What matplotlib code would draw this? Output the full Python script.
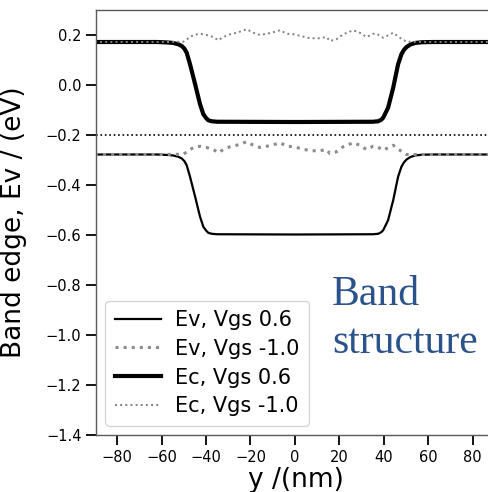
import matplotlib.pyplot as plt
import numpy as np

# y positions (nm) for the Vgs 0.6 step curves
y_step = [-90, -62, -57, -54.7, -52.5, -50.9, -49.7, -48.7, -47.2, -44.9, -42.7, -41.2, -40.0, -39.0, -37.5, -35, 0,
          35, 37.5, 38.8, 39.7, 41.9, 44.2, 46.4, 47.9, 49.0, 50.2, 52, 54, 57, 62, 90]
ec_06 = [0.172, 0.172, 0.170, 0.168, 0.163, 0.156, 0.145, 0.129, 0.083, 0.003, -0.077, -0.117, -0.132, -0.141, -0.145, -0.147, -0.148,
         -0.147, -0.145, -0.139, -0.131, -0.091, -0.011, 0.083, 0.123, 0.140, 0.152, 0.162, 0.168, 0.171, 0.172, 0.172]
ev_06 = [-0.278, -0.278, -0.280, -0.282, -0.287, -0.294, -0.305, -0.321, -0.367, -0.447, -0.527, -0.567, -0.582, -0.591, -0.595, -0.597, -0.598,
         -0.597, -0.595, -0.589, -0.581, -0.541, -0.461, -0.367, -0.327, -0.310, -0.298, -0.288, -0.282, -0.279, -0.278, -0.278]

# y positions (nm) for the Vgs -1.0 curves
y_m10 = [-90, -60, -50.2, -45.7, -42.7, -39.7, -36.7, -34.5, -32.2, -29.2, -26.2, -21.7, -18.7,
         -15.7, -12.7, -10.5, -6.7, -3.7, -0.7, 2.2, 6.7, 11.2, 14.2, 15.7, 18.7, 21.7, 26.2,
         29.2, 32.2, 35.2, 36.7, 39.7, 44.2, 47.2, 50.2, 60, 90]
ec_m10 = [0.172, 0.172, 0.173, 0.200, 0.205, 0.200, 0.192, 0.179, 0.192, 0.203, 0.209, 0.223, 0.209,
          0.200, 0.205, 0.209, 0.219, 0.205, 0.203, 0.197, 0.187, 0.187, 0.192, 0.176, 0.183, 0.203, 0.219,
          0.209, 0.192, 0.205, 0.205, 0.189, 0.209, 0.189, 0.173, 0.172, 0.172]
ev_m10 = [-0.278, -0.278, -0.277, -0.250, -0.245, -0.250, -0.258, -0.271, -0.258, -0.247, -0.241, -0.227, -0.241,
          -0.250, -0.245, -0.241, -0.231, -0.245, -0.247, -0.253, -0.263, -0.263, -0.258, -0.274, -0.267, -0.247, -0.231,
          -0.241, -0.258, -0.245, -0.245, -0.261, -0.241, -0.261, -0.278, -0.278, -0.278]

e_fermi = -0.2

fig = plt.figure(figsize=(4.88, 4.92), dpi=100)
ax = fig.add_axes([96/488, 57/492, 399/488, 425/492])

ax.axhline(e_fermi, color='k', ls=':', lw=1.2)
ax.plot(y_step, ev_06, color='k', lw=1.6, label='Ev, Vgs 0.6')
ax.plot(y_m10, ev_m10, color='0.55', ls=':', lw=2.2, label='Ev, Vgs -1.0')
ax.plot(y_step, ec_06, color='k', lw=3, label='Ec, Vgs 0.6')
ax.plot(y_m10, ec_m10, color='0.5', ls=':', lw=1.4, label='Ec, Vgs -1.0')

ax.set_xlim(-89.5, 90)
ax.set_ylim(-1.4, 0.3)
ax.set_xticks(np.arange(-80, 81, 20))
ax.set_yticks(np.arange(-1.4, 0.21, 0.2))
ax.tick_params(labelsize=10.5, length=7, width=1.3)
for s in ax.spines.values():
    s.set_color('0.35')
    s.set_linewidth(1)

ax.set_xlabel('y /(nm)', fontsize=19, labelpad=2)
ax.set_ylabel('Band edge, Ev / (eV)', fontsize=19)
ax.yaxis.set_label_coords(-0.173, 0.5)

ax.legend(loc='lower left', fontsize=15, handlelength=2.2, handletextpad=0.7,
          labelspacing=0.42, borderpad=0.45, borderaxespad=0.45)

fig.text(332/488, 1 - 305/492, 'Band', fontsize=30, family='Liberation Serif', color='#2b5289')
fig.text(332/488, 1 - 353/492, 'structure', fontsize=30, family='Liberation Serif', color='#2b5289')

fig.savefig('out.png', dpi=100)
